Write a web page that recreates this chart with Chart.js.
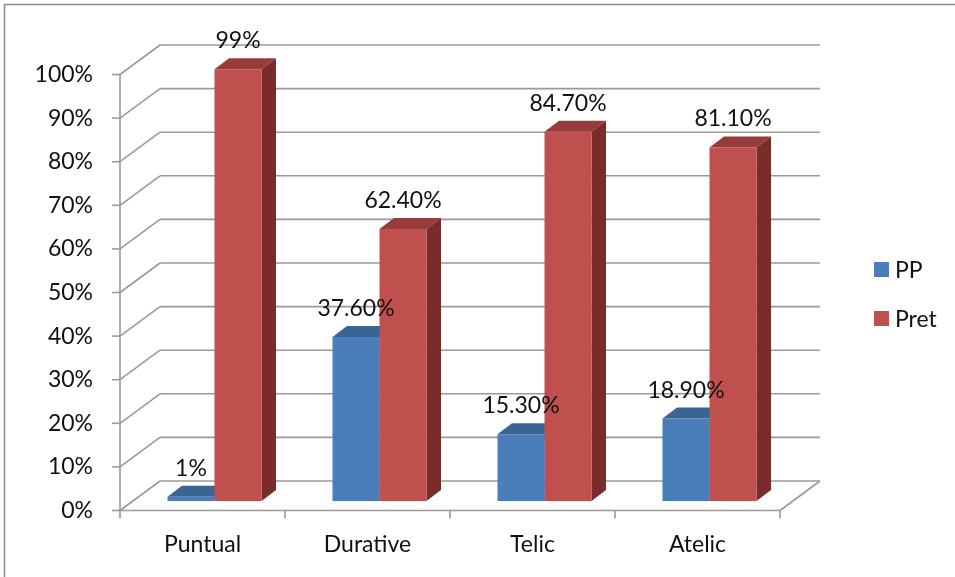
<!DOCTYPE html>
<html>
<head>
<meta charset="utf-8">
<script src="https://cdn.jsdelivr.net/npm/chart.js@4/dist/chart.umd.min.js"></script>
<style>
  html, body { margin: 0; padding: 0; background: #ffffff; }
  #wrap { width: 955px; height: 577px; position: relative; }
</style>
</head>
<body>
<div id="wrap"><canvas id="c" width="955" height="577"></canvas></div>
<script>
// ---- data ----
const categories = ['Puntual', 'Durative', 'Telic', 'Atelic'];
const seriesNames = ['PP', 'Pret'];
const ppValues = [1, 37.6, 15.3, 18.9];
const pretValues = [99, 62.4, 84.7, 81.1];
const ppLabels = ['1%', '37.60%', '15.30%', '18.90%'];
const pretLabels = ['99%', '62.40%', '84.70%', '81.10%'];
const yTicks = [0, 10, 20, 30, 40, 50, 60, 70, 80, 90, 100];

// ---- styles ----
const FONT = 'Lato, "Open Sans", sans-serif';
const frontColors = ['#4A7EBB', '#C0504D'];
const topColors = ['#3A6492', '#963C3A'];
const sideColors = ['#2E5078', '#7B2C2A'];
const GRID = '#9a9a9a';
// depth offsets (pixels) for the walls relative to the bar plane
const FX = -12, FY = 9.5;   // front edge of floor / left wall
const BX = 28, BY = -20;    // back wall
const DX = 14.5, DY = -11;  // bar depth

function line(ctx, x1, y1, x2, y2) {
  ctx.beginPath(); ctx.moveTo(x1, y1); ctx.lineTo(x2, y2); ctx.stroke();
}
function poly(ctx, pts) {
  ctx.beginPath(); ctx.moveTo(pts[0][0], pts[0][1]);
  for (let i = 1; i < pts.length; i++) ctx.lineTo(pts[i][0], pts[i][1]);
  ctx.closePath(); ctx.fill();
}

const allLabels = [ppLabels, pretLabels];

const depthPlugin = {
  id: 'depth3d',
  beforeDatasetsDraw(chart) {
    const ctx = chart.ctx, ys = chart.scales.y, ca = chart.chartArea;
    ctx.save();
    // outer frame
    ctx.strokeStyle = '#8a8a8a'; ctx.lineWidth = 1.5;
    ctx.beginPath(); ctx.moveTo(4.5, 577); ctx.lineTo(4.5, 4.5); ctx.lineTo(955, 4.5); ctx.stroke();

    ctx.strokeStyle = GRID; ctx.lineWidth = 1.6;
    yTicks.forEach(v => {
      const py = ys.getPixelForValue(v);
      line(ctx, ca.left + FX, py + FY, ca.left + BX, py + BY);
      line(ctx, ca.left + BX, py + BY, ca.right + BX, py + BY);
      line(ctx, ca.left + FX - 8, py + FY, ca.left + FX, py + FY);
    });
    const p0 = ys.getPixelForValue(0), p100 = ys.getPixelForValue(100);
    line(ctx, ca.left + FX, p0 + FY, ca.left + FX, p100 + FY);
    line(ctx, ca.left + FX, p0 + FY, ca.right + FX, p0 + FY);
    line(ctx, ca.right + FX, p0 + FY, ca.right + BX, p0 + BY);
    const n = categories.length, cw = (ca.right - ca.left) / n;
    for (let i = 0; i <= n; i++) {
      const px = ca.left + i * cw + FX;
      line(ctx, px, p0 + FY, px, p0 + FY + 8);
    }
    // bar tops and sides
    chart.data.datasets.forEach((ds, di) => {
      const meta = chart.getDatasetMeta(di);
      meta.data.forEach(bar => {
        const p = bar.getProps(['x', 'y', 'base', 'width'], true);
        const l = p.x - p.width / 2, r = p.x + p.width / 2;
        ctx.fillStyle = topColors[di];
        poly(ctx, [[l, p.y], [r, p.y], [r + DX, p.y + DY], [l + DX, p.y + DY]]);
        ctx.fillStyle = sideColors[di];
        poly(ctx, [[r, p.y], [r + DX, p.y + DY], [r + DX, p.base + DY], [r, p.base]]);
      });
    });
    ctx.restore();
  },
  afterDatasetsDraw(chart) {
    const ctx = chart.ctx, ca = chart.chartArea;
    ctx.save();
    ctx.font = '23px ' + FONT;
    ctx.fillStyle = '#111';
    ctx.textAlign = 'center';
    ctx.textBaseline = 'alphabetic';
    chart.data.datasets.forEach((ds, di) => {
      const meta = chart.getDatasetMeta(di);
      meta.data.forEach((bar, i) => {
        const p = bar.getProps(['x', 'y'], true);
        ctx.fillText(allLabels[di][i], p.x, p.y - 21);
      });
    });
    // legend
    ctx.textAlign = 'left';
    chart.data.datasets.forEach((ds, di) => {
      const cy = 269.5 + di * 49;
      ctx.fillStyle = ds.backgroundColor;
      ctx.fillRect(ca.right + 82, cy - 7.5, 15, 15);
      ctx.fillStyle = '#111';
      ctx.fillText(ds.label, ca.right + 103, cy + 8);
    });
    ctx.restore();
  }
};

new Chart(document.getElementById('c'), {
  type: 'bar',
  data: {
    labels: categories,
    datasets: [
      { label: seriesNames[0], data: ppValues, backgroundColor: frontColors[0], borderWidth: 0 },
      { label: seriesNames[1], data: pretValues, backgroundColor: frontColors[1], borderWidth: 0 }
    ]
  },
  options: {
    responsive: false,
    animation: false,
    devicePixelRatio: 1,
    layout: { padding: { left: 0, top: 65, right: 163, bottom: 0 } },
    plugins: { legend: { display: false }, tooltip: { enabled: false } },
    datasets: { bar: { categoryPercentage: 0.57, barPercentage: 1.0 } },
    scales: {
      x: {
        grid: { display: false, drawTicks: false },
        border: { display: false },
        ticks: { font: { family: FONT, size: 23 }, color: '#111', labelOffset: FX, padding: 30 },
        afterFit(scale) { scale.height = 76; }
      },
      y: {
        min: 0, max: 100,
        grid: { display: false, drawTicks: false },
        border: { display: false },
        ticks: {
          stepSize: 10,
          font: { family: FONT, size: 23 }, color: '#111',
          labelOffset: FY, padding: 39,
          callback: v => v + '%'
        },
        afterFit(scale) { scale.width = 132; }
      }
    }
  },
  plugins: [depthPlugin]
});
</script>
</body>
</html>
